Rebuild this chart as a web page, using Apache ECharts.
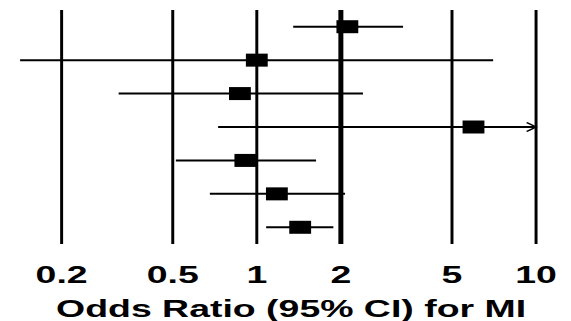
<!DOCTYPE html>
<html>
<head>
<meta charset="utf-8">
<script src="https://cdn.jsdelivr.net/npm/echarts@6/dist/echarts.min.js"></script>
<style>
  html, body { margin: 0; padding: 0; background: #fff; overflow: hidden; }
  /* the source picture is stretched sideways, so the chart is drawn narrow and widened */
  #chart { width: 366px; height: 321px; transform: scaleX(1.5601); transform-origin: 0 0; }
</style>
</head>
<body>
<div id="chart"></div>
<script>
const categories = ['Study 1', 'Study 2', 'Study 3', 'Study 4', 'Study 5', 'Study 6', 'Study 7']
const oddsRatio = [2.11, 1.0, 0.87, 5.97, 0.91, 1.18, 1.43]
const ciLower = [1.35, 0.142, 0.32, 0.727, 0.513, 0.679, 1.08]
const ciUpper = [3.34, 7.02, 2.40, 12.0, 1.63, 2.07, 1.88]
const tickValues = [0.2, 0.5, 1, 2, 5, 10]
const refValue = 2

const log = v => Math.log10(v)
const xMin = log(tickValues[0])
const xMax = log(tickValues[tickValues.length - 1])
const font = '"Liberation Sans", Arial, sans-serif'

const chart = echarts.init(document.getElementById('chart'), null, { renderer: 'svg' })

const option = {
  backgroundColor: '#fff',
  animation: false,
  grid: { left: 39.5, right: 22.4, top: 10, bottom: 77, outerBoundsMode: 'none' },
  xAxis: {
    type: 'value',
    min: xMin,
    max: xMax,
    axisLine: { show: false },
    axisTick: { show: false },
    splitLine: { show: false },
    axisLabel: {
      customValues: tickValues.map(log),
      formatter: v => {
        // show the tick back as an odds ratio
        let best = tickValues[0]
        tickValues.forEach(t => { if (Math.abs(log(t) - v) < Math.abs(log(best) - v)) best = t })
        return String(best)
      },
      color: '#000',
      fontFamily: font,
      fontWeight: 'bold',
      fontSize: 24,
      margin: 19
    },
    name: 'Odds Ratio (95% CI) for MI',
    nameLocation: 'middle',
    nameGap: 53,
    nameTextStyle: {
      color: '#000',
      fontFamily: font,
      fontWeight: 'bold',
      fontSize: 24,
      padding: [0, 10, 0, 0]
    }
  },
  yAxis: {
    type: 'category',
    data: categories,
    inverse: true,
    axisLine: { show: false },
    axisTick: { show: false },
    axisLabel: { show: false },
    splitLine: { show: false }
  },
  series: [
    {
      // vertical reference lines at each tick
      type: 'custom',
      z: 2,
      clip: false,
      data: tickValues.map(t => [log(t), t]),
      encode: { x: 0 },
      renderItem: (params, api) => {
        const x = api.coord([api.value(0), 0])[0]
        const cs = params.coordSys
        return {
          type: 'line',
          shape: { x1: x, y1: cs.y, x2: x, y2: cs.y + cs.height },
          style: { stroke: '#000', lineWidth: api.value(1) === refValue ? 3.2 : 1.9 }
        }
      }
    },
    {
      type: 'custom',
      z: 3,
      clip: false,
      data: categories.map((c, i) => [log(ciLower[i]), log(ciUpper[i]), i]),
      encode: { x: [0, 1], y: 2 },
      renderItem: (params, api) => {
        const lo = api.value(0)
        const hi = api.value(1)
        const row = api.value(2)
        const start = api.coord([lo, row])
        const end = api.coord([Math.min(hi, xMax), row])
        const children = [{
          type: 'line',
          shape: { x1: start[0], y1: start[1], x2: end[0], y2: end[1] },
          style: { stroke: '#000', lineWidth: 2 }
        }]
        if (hi > xMax) {
          children.push({
            type: 'polyline',
            shape: { points: [[end[0] - 6, end[1] - 4.5], [end[0], end[1]], [end[0] - 6, end[1] + 4.5]] },
            style: { stroke: '#000', fill: 'none', lineWidth: 1.4 }
          })
        }
        return { type: 'group', children }
      }
    },
    {
      type: 'scatter',
      z: 4,
      symbol: 'rect',
      symbolSize: [14, 13],
      itemStyle: { color: '#000', opacity: 1 },
      data: categories.map((c, i) => [log(oddsRatio[i]), i])
    }
  ]
}

chart.setOption(option)
</script>
</body>
</html>
